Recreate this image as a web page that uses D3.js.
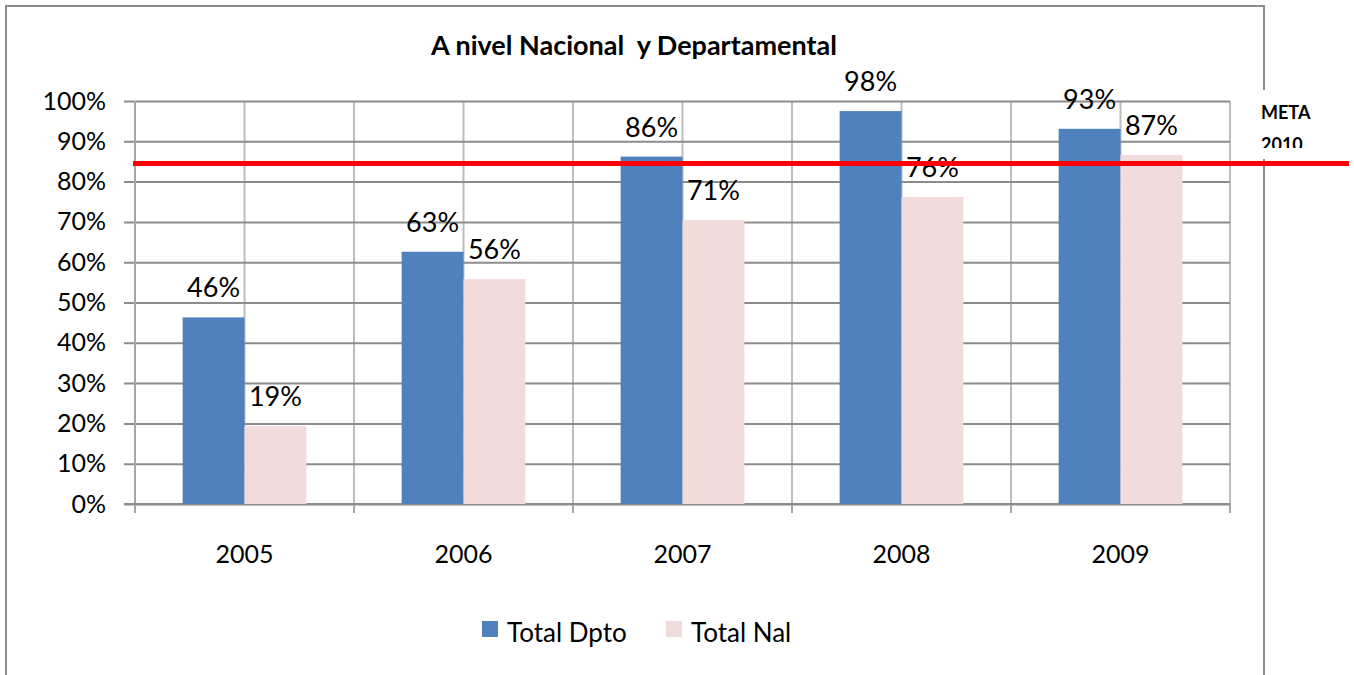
<!DOCTYPE html>
<html>
<head>
<meta charset="utf-8">
<script src="https://cdn.jsdelivr.net/npm/d3@7"></script>
<style>
	body { margin: 0; background: #fff; }
	text { font-family: Lato, "Open Sans", sans-serif; fill: #000; }
</style>
</head>
<body>
<svg id="chart" width="1354" height="675"></svg>
<script>
var years = ["2005", "2006", "2007", "2008", "2009"];
var seriesNames = ["Total Dpto", "Total Nal"];
var totalDpto = [0.463, 0.626, 0.862, 0.975, 0.931];
var totalNal = [0.193, 0.558, 0.705, 0.762, 0.866];
var yTicks = [0, 0.1, 0.2, 0.3, 0.4, 0.5, 0.6, 0.7, 0.8, 0.9, 1];
var meta2010 = 0.845;

var colors = { "Total Dpto": "#4f81bd", "Total Nal": "#f2dcdb" };

var svg = d3.select("#chart");

// chart frame (bottom edge runs off the picture)
svg.append("rect")
	.attr("x", 6)
	.attr("y", 6)
	.attr("width", 1258)
	.attr("height", 720)
	.attr("fill", "#fff")
	.attr("stroke", "#8c8c8c")
	.attr("stroke-width", 2);

var plot = { left: 135, right: 1230, top: 101, bottom: 504 };

var x = d3.scaleBand()
	.domain(years)
	.range([plot.left, plot.right]);

var xInner = d3.scaleBand()
	.domain(seriesNames)
	.range([0, x.bandwidth()])
	.paddingOuter(0.77);

var y = d3.scaleLinear()
	.domain([0, 1])
	.range([plot.bottom, plot.top]);

var rows = years.map(function (yr, i) {
	return { year: yr, values: [
		{ key: "Total Dpto", value: totalDpto[i] },
		{ key: "Total Nal", value: totalNal[i] }
	] };
});

// vertical grid lines at every half category
var vLines = [];
years.forEach(function (yr) {
	vLines.push(x(yr));
	vLines.push(x(yr) + x.bandwidth() / 2);
});
vLines.push(plot.right);

svg.append("g")
	.selectAll("line")
	.data(vLines)
	.enter().append("line")
	.attr("x1", function (d) { return d; })
	.attr("x2", function (d) { return d; })
	.attr("y1", plot.top)
	.attr("y2", plot.bottom)
	.attr("stroke", "#bdbdbd")
	.attr("stroke-width", 2);

// horizontal grid + y axis
var yAxis = d3.axisLeft(y)
	.tickValues(yTicks)
	.tickFormat(d3.format(".0%"))
	.tickSize(-(plot.right - plot.left + 11))
	.tickPadding(18);

var gy = svg.append("g")
	.attr("transform", "translate(" + (plot.left - 11) + ",0)")
	.call(yAxis);
gy.select(".domain").remove();
gy.selectAll(".tick line")
	.attr("stroke", "#8c8c8c")
	.attr("stroke-width", 2);
gy.selectAll(".tick text")
	.attr("x", 0)
	.attr("dx", -18)
	.style("font-size", "25px");

// y axis line
svg.append("line")
	.attr("x1", plot.left)
	.attr("x2", plot.left)
	.attr("y1", plot.top)
	.attr("y2", plot.bottom + 8)
	.attr("stroke", "#a6a6a6")
	.attr("stroke-width", 2);

// x axis
var xAxis = d3.axisBottom(x)
	.tickSize(0)
	.tickPadding(0);

var gx = svg.append("g")
	.attr("transform", "translate(0," + plot.bottom + ")")
	.call(xAxis);
gx.select(".domain").remove();
gx.selectAll(".tick text")
	.attr("dy", 0)
	.attr("y", 59)
	.style("font-size", "25px");

// category tick marks
svg.append("g")
	.selectAll("line")
	.data(years.map(function (yr) { return x(yr); }).concat([plot.right]))
	.enter().append("line")
	.attr("x1", function (d) { return d; })
	.attr("x2", function (d) { return d; })
	.attr("y1", plot.bottom)
	.attr("y2", plot.bottom + 9)
	.attr("stroke", "#a6a6a6")
	.attr("stroke-width", 2);

svg.append("line")
	.attr("x1", plot.left - 11)
	.attr("x2", plot.right)
	.attr("y1", plot.bottom)
	.attr("y2", plot.bottom)
	.attr("stroke", "#8c8c8c")
	.attr("stroke-width", 2);

// bars
var groups = svg.append("g")
	.selectAll("g")
	.data(rows)
	.enter().append("g")
	.attr("transform", function (d) { return "translate(" + x(d.year) + ",0)"; });

groups.selectAll("rect")
	.data(function (d) { return d.values; })
	.enter().append("rect")
	.attr("x", function (d) { return xInner(d.key); })
	.attr("width", xInner.bandwidth())
	.attr("y", function (d) { return y(d.value); })
	.attr("height", function (d) { return y(0) - y(d.value); })
	.attr("fill", function (d) { return colors[d.key]; });

groups.selectAll("text.val")
	.data(function (d) { return d.values; })
	.enter().append("text")
	.attr("class", "val")
	.attr("x", function (d) { return xInner(d.key) + xInner.bandwidth() / 2; })
	.attr("y", function (d) { return y(d.value) - 20; })
	.attr("text-anchor", "middle")
	.style("font-size", "27px")
	.text(function (d) { return d3.format(".0%")(d.value); });

// meta line
svg.append("line")
	.attr("x1", 133)
	.attr("x2", 1349)
	.attr("y1", y(meta2010))
	.attr("y2", y(meta2010))
	.attr("stroke", "#ff0000")
	.attr("stroke-width", 5);

// meta label box
svg.append("clipPath")
	.attr("id", "metaClip")
	.append("rect")
	.attr("x", 1255)
	.attr("y", 90)
	.attr("width", 80)
	.attr("height", 58);

svg.append("rect")
	.attr("x", 1256)
	.attr("y", 90)
	.attr("width", 74)
	.attr("height", 69)
	.attr("fill", "#fff");

var metaLabel = svg.append("g").attr("clip-path", "url(#metaClip)");
metaLabel.append("text")
	.attr("x", 1261)
	.attr("y", 119)
	.style("font-size", "18px")
	.style("font-weight", "bold")
	.text("META");
metaLabel.append("text")
	.attr("x", 1261)
	.attr("y", 151)
	.style("font-size", "18px")
	.style("font-weight", "bold")
	.text("2010");

// title
svg.append("text")
	.attr("x", 634)
	.attr("y", 55)
	.attr("text-anchor", "middle")
	.style("font-size", "27px")
	.style("font-weight", "bold")
	.style("white-space", "pre")
	.text("A nivel Nacional  y Departamental");

// legend
var legend = svg.append("g")
	.selectAll("g")
	.data(seriesNames)
	.enter().append("g")
	.attr("transform", function (d, i) { return "translate(" + [482, 666][i] + ",621)"; });

legend.append("rect")
	.attr("width", 16)
	.attr("height", 16)
	.attr("fill", function (d) { return colors[d]; });

legend.append("text")
	.attr("x", 25)
	.attr("y", 21)
	.style("font-size", "26px")
	.text(function (d) { return d; });
</script>
</body>
</html>
